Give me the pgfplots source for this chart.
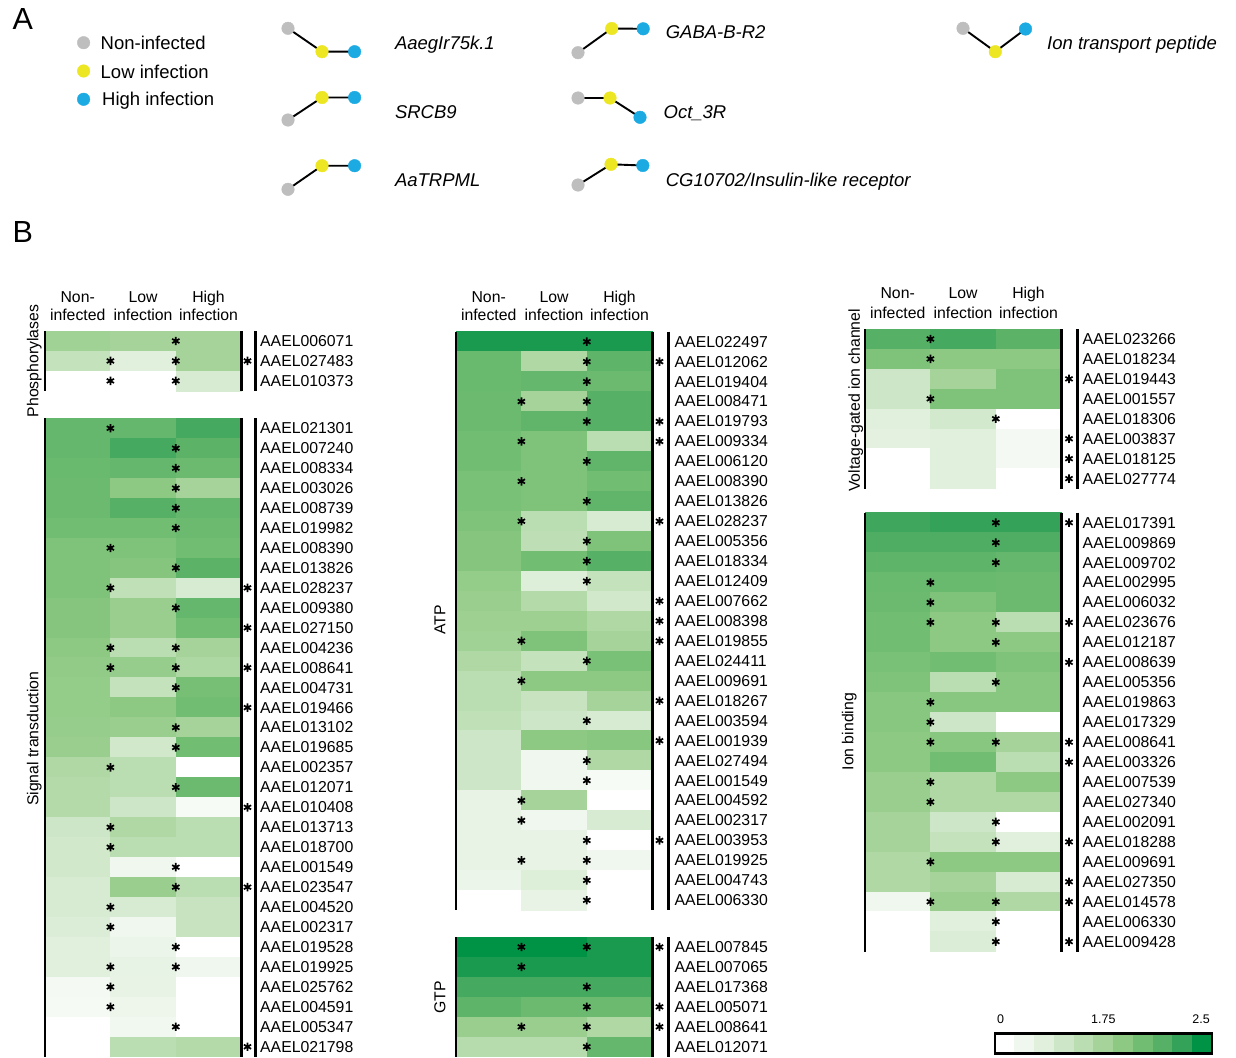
\documentclass[border=0pt]{standalone}
\usepackage{pgfplots}
\pgfplotsset{compat=1.18}
\usepackage{pgfplotstable}
\usepackage{fontspec}
\setmainfont{Liberation Sans}

\definecolor{cgray}{RGB}{190,190,190}
\definecolor{cyel}{RGB}{236,230,35}
\definecolor{cblue}{RGB}{28,170,226}

\pgfdeclareplotmark{cell}{%
  \pgfpathrectangle{\pgfpoint{-32.7pt}{-9.975pt}}{\pgfpoint{65.4pt}{19.95pt}}%
  \pgfusepathqfillstroke}
\pgfdeclareplotmark{cbcell}{%
  \pgfpathrectangle{\pgfpoint{-9.865pt}{-10pt}}{\pgfpoint{19.73pt}{20pt}}%
  \pgfusepathqfillstroke}

\tikzset{
  glab/.style={anchor=west, inner sep=0pt, font=\fontsize{15.8}{18}\selectfont},
  hdr/.style={anchor=base, inner sep=0pt, font=\fontsize{15.8}{18}\selectfont},
  grp/.style={rotate=90, anchor=center, inner sep=0pt, font=\fontsize{15.8}{18}\selectfont},
  atxt/.style={anchor=base west, inner sep=0pt, font=\fontsize{18.5}{22}\selectfont},
  itxt/.style={anchor=base west, inner sep=0pt, font=\fontsize{18.5}{22}\selectfont\itshape},
  vl/.style={line width=2.6pt, black},
}

\pgfplotsset{pixaxis/.style={
  x=1pt, y=1pt, y dir=reverse,
  xmin=0, xmax=1236, ymin=0, ymax=1057,
  enlargelimits=false, hide axis, clip=false, scale only axis,
  at={(0,0)}, anchor=south west}}

% level scale 0..10 (11 colour steps of the colour bar)
\pgfplotstableread{
r N L H a b c
0 5.2 5 5 0 1 0
1 3.5 2 5 1 1 1
2 0 0 2.5 1 1 0
}\tPhos

\pgfplotstableread{
r N L H a b c
0 7.5 7.5 8.5 1 0 0
1 7.5 8.5 7.8 0 1 0
2 7.3 7.5 7.2 0 1 0
3 7.2 6 5 0 1 0
4 7.2 8 7.5 0 1 0
5 7 7 7.2 0 1 0
6 6.5 6.5 7 1 0 0
7 6.5 6.3 7.8 0 1 0
8 6.5 3.7 2.5 1 0 1
9 6.3 5.5 7.5 0 1 0
10 6.3 5.5 7 0 0 1
11 6 4 5 1 1 0
12 5.8 5.6 4.6 1 1 1
13 5.7 3.5 6.8 0 1 0
14 5.7 6 7 0 0 1
15 5.6 5.5 5 0 1 0
16 5.5 2.8 7 0 1 0
17 4.5 4 0 1 0 0
18 4.3 4 7.2 0 1 0
19 4.3 3 0.5 0 0 1
20 3 4.5 4 1 0 0
21 2.8 4 4 1 0 0
22 2.8 1 0 0 1 0
23 2.5 5.5 4 0 1 1
24 2.5 2.5 3.3 1 0 0
25 2.3 1 3.3 1 0 0
26 2 1.3 0 0 1 0
27 2 1.6 1 1 1 0
28 0.7 1.5 0 1 0 0
29 0.6 1.1 0 1 0 0
30 0 0.9 0 0 1 0
31 0 4 4.3 0 0 1
}\tSig

\pgfplotstableread{
r N L H a b c
0 9.5 9.5 9.5 0 1 0
1 7.3 4.5 7.7 0 1 1
2 7.3 7.5 7.2 0 1 0
3 7.2 5 8 1 1 0
4 7.2 7.6 8 0 1 1
5 7 6.5 4 1 0 1
6 7 6.5 7.6 0 1 0
7 6.7 6.5 7 1 0 0
8 6.7 6.5 7.6 0 1 0
9 6.5 4 2.5 1 0 1
10 6.3 3.8 6.5 0 1 0
11 6.3 7 8 0 1 0
12 5.7 2.2 3.5 0 1 0
13 5.5 4.3 2.8 0 0 1
14 5.3 5.3 4.5 0 0 1
15 5.2 6.5 5 1 0 1
16 4.5 3.5 6.7 0 1 0
17 4 6 6 1 0 0
18 4 3.3 5 0 0 1
19 3.7 3 2.5 0 1 0
20 3 6 6.2 0 0 1
21 3 1 4.5 0 1 0
22 3 1 0.5 0 1 0
23 1.5 5 0 1 0 0
24 1.5 1 2.5 1 0 0
25 1.5 1.5 0 0 1 1
26 1.5 1.5 1 1 1 0
27 1.3 2.2 0 0 1 0
28 0 1.5 0 0 1 0
}\tATP

\pgfplotstableread{
r N L H a b c
0 10 10 9.5 1 1 1
1 9.5 9.5 9.5 1 0 0
2 8.5 8.5 8.5 0 1 0
3 7.7 7.2 7.2 0 1 1
4 5.5 5.5 4.5 1 1 1
5 4.2 4.2 7.5 0 1 0
}\tGTP

\pgfplotstableread{
r N L H a b c
0 8 8.5 7.8 1 0 0
1 6.5 6 6 1 0 0
2 3 5 6.5 0 0 1
3 3 6.5 6.5 1 0 0
4 2 2.7 0 0 1 0
5 1.8 2 0.7 0 0 1
6 0 2 0.7 0 0 1
7 0 2 0 0 0 1
}\tVolt

\pgfplotstableread{
r N L H a b c
0 8.7 9 9 0 1 1
1 8.2 8.2 8.2 0 1 0
2 7.7 7.7 7.5 0 1 0
3 7.3 7.3 7.2 1 0 0
4 7.2 6.5 7.2 1 0 0
5 7 6 4 1 1 1
6 7 6 6 0 1 0
7 6.7 7 6.5 0 0 1
8 6.5 4 6.2 0 1 0
9 6.2 6.2 6.2 1 0 0
10 6.2 3 0 1 0 0
11 6 6.2 5 1 1 1
12 6 7 4 0 0 1
13 5.5 4.5 6 1 0 0
14 5.5 4.5 4.5 1 0 0
15 5 3 0 0 1 0
16 5 3.5 2 0 1 1
17 4.5 6 6 1 0 0
18 4.5 5 2.5 0 0 1
19 1 5.5 4.5 1 1 1
20 0 2 0 0 1 0
21 0 2.3 0 0 1 1
}\tIon

% #1 table, #2 left x, #3 top y, #4 x of outside asterisks
\newcommand{\heat}[4]{%
  \addplot[scatter, only marks, mark=cell, mark options={line width=0.5pt},
    scatter/use mapped color={draw=mapped color,fill=mapped color},
    point meta=\thisrow{N}]
    table[x expr={#2+32.7}, y expr={#3+9.975+19.95*\thisrow{r}}] {#1};
  \addplot[scatter, only marks, mark=cell, mark options={line width=0.5pt},
    scatter/use mapped color={draw=mapped color,fill=mapped color},
    point meta=\thisrow{L}]
    table[x expr={#2+98.1}, y expr={#3+9.975+19.95*\thisrow{r}}] {#1};
  \addplot[scatter, only marks, mark=cell, mark options={line width=0.5pt},
    scatter/use mapped color={draw=mapped color,fill=mapped color},
    point meta=\thisrow{H}]
    table[x expr={#2+163.5}, y expr={#3+9.975+19.95*\thisrow{r}}] {#1};
  \addplot[only marks, mark=asterisk, mark size=4.2pt, black, mark options={line width=1.7pt},
    restrict expr to domain={\thisrow{a}}{0.5:1.5}]
    table[x expr={#2+65.4}, y expr={#3+9.975+19.95*\thisrow{r}}] {#1};
  \addplot[only marks, mark=asterisk, mark size=4.2pt, black, mark options={line width=1.7pt},
    restrict expr to domain={\thisrow{b}}{0.5:1.5}]
    table[x expr={#2+130.8}, y expr={#3+9.975+19.95*\thisrow{r}}] {#1};
  \addplot[only marks, mark=asterisk, mark size=4.2pt, black, mark options={line width=1.7pt},
    restrict expr to domain={\thisrow{c}}{0.5:1.5}]
    table[x expr={#4}, y expr={#3+9.975+19.95*\thisrow{r}}] {#1};
}

% #1 label x, #2 top y, #3 names
\newcommand{\genelabels}[3]{%
  \foreach \g [count=\k from 0] in {#3} {%
    \pgfmathsetmacro{\yy}{#2+9.975+19.95*\k}%
    \edef\tmp{\noexpand\node[glab] at (axis cs:#1,\yy) {\g};}%
    \tmp
  }%
}

% #1 x centre of first column, #2 baseline first line, #3 baseline second line
\newcommand{\headers}[3]{%
  \pgfmathsetmacro{\xa}{#1}\pgfmathsetmacro{\xb}{#1+65.4}\pgfmathsetmacro{\xc}{#1+130.8}%
  \edef\tmp{%
    \noexpand\node[hdr] at (axis cs:\xa,#2) {Non-};
    \noexpand\node[hdr] at (axis cs:\xa,#3) {infected};
    \noexpand\node[hdr] at (axis cs:\xb,#2) {Low};
    \noexpand\node[hdr] at (axis cs:\xb,#3) {infection};
    \noexpand\node[hdr] at (axis cs:\xc,#2) {High};
    \noexpand\node[hdr] at (axis cs:\xc,#3) {infection};
  }\tmp
}

\begin{document}
\begin{tikzpicture}
\begin{axis}[
  pixaxis,
  point meta min=0, point meta max=10,
  colormap={hm}{rgb255=(255,255,255) rgb255=(240,247,238) rgb255=(225,240,221)
    rgb255=(205,230,199) rgb255=(186,221,177) rgb255=(165,211,153) rgb255=(141,201,131)
    rgb255=(113,189,114) rgb255=(86,176,101) rgb255=(52,162,89) rgb255=(0,146,69)},
]
\coordinate (TL) at (axis cs:0,0);
\coordinate (BR) at (axis cs:1236,1057);

% ---------------- Panel A ----------------
\node[anchor=base west, inner sep=0pt, font=\fontsize{30.5}{34}\selectfont] at (axis cs:12.5,30) {A};
\addplot[black, line width=1.9pt, mark=none] coordinates {(288,28.3) (322,51.7) (354.6,51.7)};
\addplot[black, line width=1.9pt, mark=none] coordinates {(288,120) (322,97.5) (354.6,97.5)};
\addplot[black, line width=1.9pt, mark=none] coordinates {(288,189.3) (322,165.7) (354.6,165.7)};
\addplot[black, line width=1.9pt, mark=none] coordinates {(578,52.7) (611.7,28.5) (643.2,28.8)};
\addplot[black, line width=1.9pt, mark=none] coordinates {(578,98) (610,98) (640,117.3)};
\addplot[black, line width=1.9pt, mark=none] coordinates {(578,185) (611,164.3) (642.8,165.5)};
\addplot[black, line width=1.9pt, mark=none] coordinates {(963,28.3) (995.3,51.7) (1025.5,29)};
\addplot[only marks, mark=*, mark size=6.3pt, cgray] coordinates {(83.6,42.7) (288,28.3) (288,120) (288,189.3) (578,52.7) (578,98) (578,185) (963,28.3)};
\addplot[only marks, mark=*, mark size=6.3pt, cyel] coordinates {(83.6,71) (322,51.7) (322,97.5) (322,165.7) (611.7,28.5) (610,98) (611,164.3) (995.3,51.7)};
\addplot[only marks, mark=*, mark size=6.3pt, cblue] coordinates {(83.6,99.3) (354.6,51.7) (354.6,97.5) (354.6,165.7) (643.2,28.8) (640,117.3) (642.8,165.5) (1025.5,29)};
\node[atxt] at (axis cs:100.5,50) {Non-infected};
\node[atxt] at (axis cs:100.5,78) {Low infection};
\node[atxt] at (axis cs:102,105.7) {High infection};
\node[itxt] at (axis cs:394.8,50) {AaegIr75k.1};
\node[itxt] at (axis cs:394.8,118.3) {SRCB9};
\node[itxt] at (axis cs:394.8,186) {AaTRPML};
\node[itxt] at (axis cs:665.6,38.5) {GABA-B-R2};
\node[itxt] at (axis cs:663.4,118.3) {Oct\_3R};
\node[itxt] at (axis cs:665.6,186) {CG10702/Insulin-like receptor};
\node[itxt] at (axis cs:1047,49.5) {Ion transport peptide};

% ---------------- Panel B ----------------
\node[anchor=base west, inner sep=0pt, font=\fontsize{30.5}{34}\selectfont] at (axis cs:12.5,242) {B};

% left block
\headers{77.7}{302}{320.7}
\heat{\tPhos}{45}{331}{247.5}
\heat{\tSig}{45}{418.3}{247.5}
\node[grp] at (axis cs:34.2,361) {Phosphorylases};
\node[grp] at (axis cs:34.2,738.7) {Signal transduction};
\genelabels{260}{331}{AAEL006071,AAEL027483,AAEL010373}
\genelabels{260}{418.3}{AAEL021301,AAEL007240,AAEL008334,AAEL003026,AAEL008739,AAEL019982,AAEL008390,AAEL013826,AAEL028237,AAEL009380,AAEL027150,AAEL004236,AAEL008641,AAEL004731,AAEL019466,AAEL013102,AAEL019685,AAEL002357,AAEL012071,AAEL010408,AAEL013713,AAEL018700,AAEL001549,AAEL023547,AAEL004520,AAEL002317,AAEL019528,AAEL019925,AAEL025762,AAEL004591,AAEL005347,AAEL021798}

% middle block
\headers{488.7}{302}{320.7}
\heat{\tATP}{456}{331.7}{659.5}
\heat{\tGTP}{456}{937}{659.5}
\node[grp] at (axis cs:440,620) {ATP};
\node[grp] at (axis cs:440,997.5) {GTP};
\genelabels{674.5}{331.7}{AAEL022497,AAEL012062,AAEL019404,AAEL008471,AAEL019793,AAEL009334,AAEL006120,AAEL008390,AAEL013826,AAEL028237,AAEL005356,AAEL018334,AAEL012409,AAEL007662,AAEL008398,AAEL019855,AAEL024411,AAEL009691,AAEL018267,AAEL003594,AAEL001939,AAEL027494,AAEL001549,AAEL004592,AAEL002317,AAEL003953,AAEL019925,AAEL004743,AAEL006330}
\genelabels{674.5}{937}{AAEL007845,AAEL007065,AAEL017368,AAEL005071,AAEL008641,AAEL012071}

% right block
\headers{897.7}{298.5}{318}
\heat{\tVolt}{865}{329}{1069}
\heat{\tIon}{865}{512.7}{1069}
\node[grp] at (axis cs:855.8,400.3) {Voltage-gated ion channel};
\node[grp] at (axis cs:849.2,731.7) {Ion binding};
\genelabels{1082.5}{329}{AAEL023266,AAEL018234,AAEL019443,AAEL001557,AAEL018306,AAEL003837,AAEL018125,AAEL027774}
\genelabels{1082.5}{512.7}{AAEL017391,AAEL009869,AAEL009702,AAEL002995,AAEL006032,AAEL023676,AAEL012187,AAEL008639,AAEL005356,AAEL019863,AAEL017329,AAEL008641,AAEL003326,AAEL007539,AAEL027340,AAEL002091,AAEL018288,AAEL009691,AAEL027350,AAEL014578,AAEL006330,AAEL009428}

% colour bar
\addplot[scatter, only marks, mark=cbcell, mark options={line width=0.5pt},
  scatter/use mapped color={draw=mapped color,fill=mapped color},
  point meta=\thisrow{v}]
  table[x expr={995+19.73*(\thisrow{v}+0.5)}, y expr={1043.3}] {
v
0
1
2
3
4
5
6
7
8
9
10
};
\node[anchor=base, inner sep=0pt, font=\fontsize{12.5}{14}\selectfont] at (axis cs:1000.7,1023.5) {0};
\node[anchor=base, inner sep=0pt, font=\fontsize{12.5}{14}\selectfont] at (axis cs:1103.3,1023.5) {1.75};
\node[anchor=base, inner sep=0pt, font=\fontsize{12.5}{14}\selectfont] at (axis cs:1201,1023.5) {2.5};
\end{axis}

% overlay axis (same frame): black rules drawn above the heat-map cells
\begin{axis}[pixaxis]
\draw[vl] (axis cs:45,331) -- (axis cs:45,390.85);
\draw[vl] (axis cs:241.2,331) -- (axis cs:241.2,390.85);
\draw[vl] (axis cs:255.3,331) -- (axis cs:255.3,390.85);
\draw[vl] (axis cs:45,418.3) -- (axis cs:45,1056.7);
\draw[vl] (axis cs:241.2,418.3) -- (axis cs:241.2,1056.7);
\draw[vl] (axis cs:255.3,418.3) -- (axis cs:255.3,1056.7);
\draw[vl] (axis cs:456,331.7) -- (axis cs:456,910.25);
\draw[vl] (axis cs:652.2,331.7) -- (axis cs:652.2,910.25);
\draw[vl] (axis cs:668.3,331.7) -- (axis cs:668.3,910.25);
\draw[vl] (axis cs:456,937) -- (axis cs:456,1056.7);
\draw[vl] (axis cs:652.2,937) -- (axis cs:652.2,1056.7);
\draw[vl] (axis cs:668.3,937) -- (axis cs:668.3,1056.7);
\draw[vl] (axis cs:865,329) -- (axis cs:865,488.6);
\draw[vl] (axis cs:1061.2,329) -- (axis cs:1061.2,488.6);
\draw[vl] (axis cs:1077.3,329) -- (axis cs:1077.3,488.6);
\draw[vl] (axis cs:865,512.7) -- (axis cs:865,951.6);
\draw[vl] (axis cs:1061.2,512.7) -- (axis cs:1061.2,951.6);
\draw[vl] (axis cs:1077.3,512.7) -- (axis cs:1077.3,951.6);
\draw[line width=2.8pt, black] (axis cs:995,1033.3) rectangle (axis cs:1212,1053.3);
\end{axis}
\pgfresetboundingbox
\path[use as bounding box] (TL) rectangle (BR);
\end{tikzpicture}
\end{document}
